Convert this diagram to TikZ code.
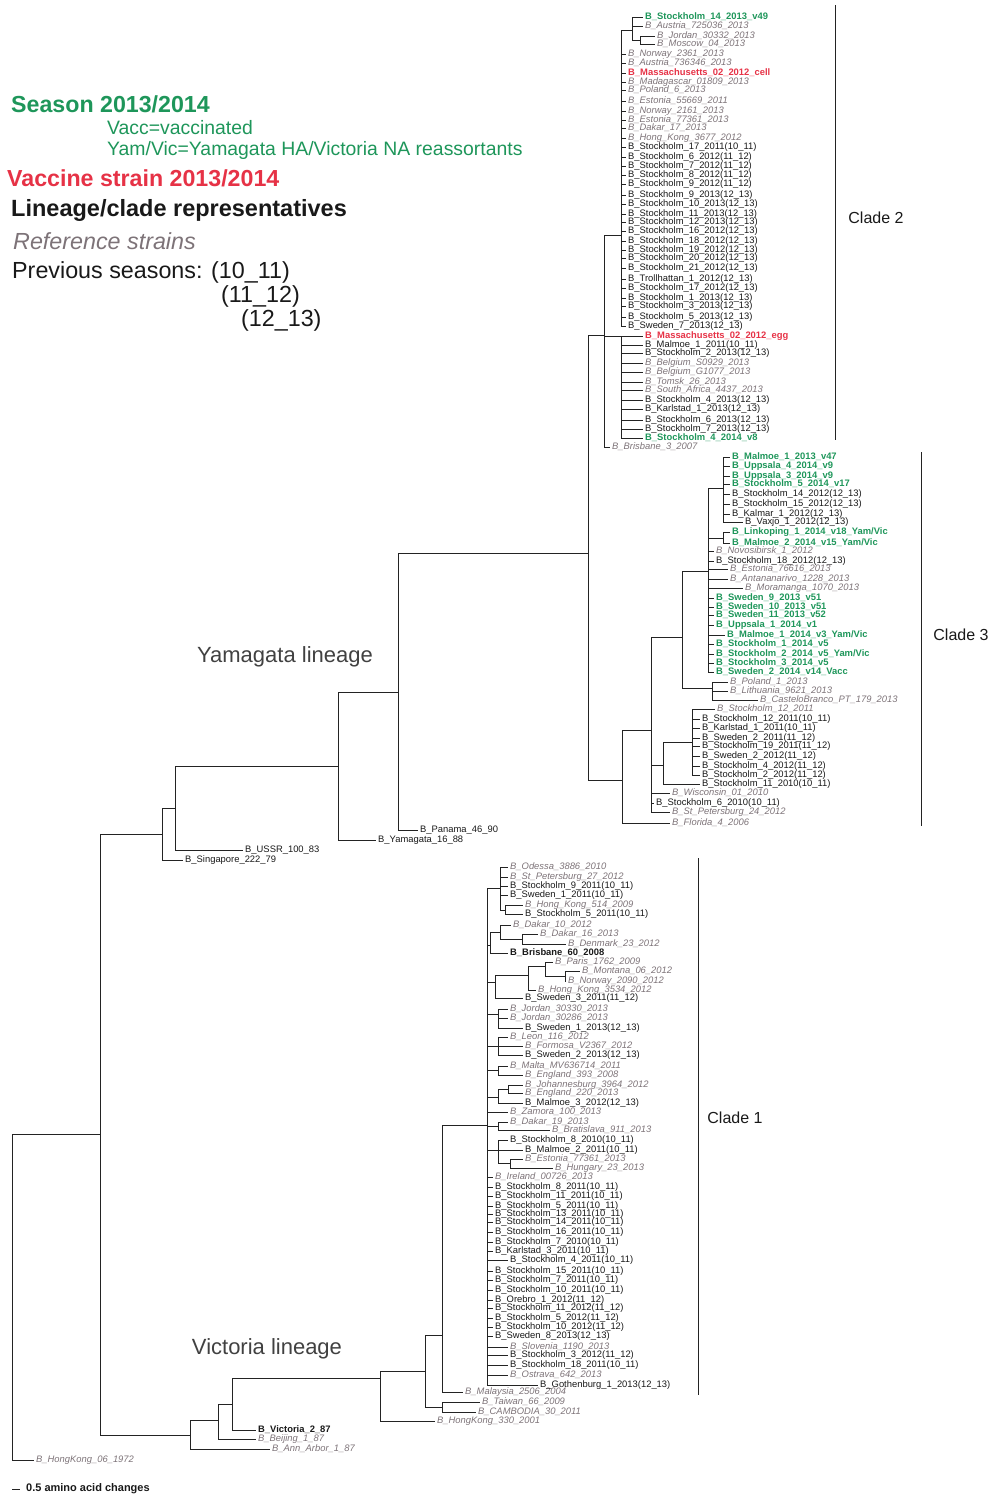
\documentclass[tikz,border=0pt]{standalone}
\usepackage{fontspec}
\setmainfont{Liberation Sans}
\definecolor{gcol}{RGB}{30,150,90}
\definecolor{rcol}{RGB}{230,50,70}
\definecolor{fcol}{RGB}{125,115,120}
\definecolor{kcol}{RGB}{25,25,25}
\definecolor{lcol}{RGB}{35,35,35}
\definecolor{ncol}{RGB}{65,65,65}
\newcommand\leafnode[6]{\node[lf,#2] (#1) at ({#3-2},#4) {#5}; \draw[br] (#6) |- (#1.west);}
\catcode`\_=12
\begin{document}
\begin{tikzpicture}[x=1pt,y=-1pt,
  br/.style={draw=lcol,line width=0.85pt},
  lf/.style={anchor=west,inner xsep=2pt,inner ysep=0.5pt,font=\fontsize{9.4}{10}\selectfont},
  gn/.style={text=gcol,font=\fontsize{9.4}{10}\selectfont\bfseries},
  rd/.style={text=rcol,font=\fontsize{9.4}{10}\selectfont\bfseries},
  rf/.style={text=fcol,font=\fontsize{9.4}{10}\selectfont\itshape},
  bk/.style={text=kcol},
  rp/.style={text=kcol,font=\fontsize{9.4}{10}\selectfont\bfseries},
  leg/.style={anchor=west,inner sep=0pt},
  clade/.style={font=\fontsize{16}{18}\selectfont,text=kcol},
  lin/.style={font=\fontsize{22}{24}\selectfont,text=ncol}]
\useasboundingbox (0,0) rectangle (990,1497);
% legend
\node[leg,text=gcol,font=\fontsize{23.2}{25}\selectfont\bfseries] (t1) at (11,104) {Season 2013/2014};
\node[leg,text=gcol,font=\fontsize{19.4}{21}\selectfont] (t2) at (107,128) {Vacc=vaccinated};
\node[leg,text=gcol,font=\fontsize{19.4}{21}\selectfont] (t3) at (107,150) {Yam/Vic=Yamagata HA/Victoria NA reassortants};
\node[leg,text=rcol,font=\fontsize{23.2}{25}\selectfont\bfseries] (t4) at (7,178) {Vaccine strain 2013/2014};
\node[leg,text=kcol,font=\fontsize{23.5}{25}\selectfont\bfseries] (t5) at (11,210) {Lineage/clade representatives};
\node[leg,text=fcol,font=\fontsize{23.3}{25}\selectfont\itshape] (t6) at (13,241) {Reference strains};
\node[leg,text=kcol,font=\fontsize{23.3}{25}\selectfont] (t7) at (12,272) {Previous seasons: (10_11)};
\node[leg,text=kcol,font=\fontsize{23.3}{25}\selectfont] (t8) at (221,296) {(11_12)};
\node[leg,text=kcol,font=\fontsize{23.3}{25}\selectfont] (t9) at (241,320) {(12_13)};
% lineage labels
\node[lin] (ylab) at (285,657) {Yamagata lineage};
\node[lin] (vlab) at (267,1349) {Victoria lineage};
% internal nodes: backbone
\coordinate (R) at (12,1297);
\coordinate (N100) at (100,1134);
\coordinate (N162) at (162,834);
\coordinate (N175) at (175,808);
\coordinate (N338) at (338,766);
\coordinate (N398) at (398,692);
\coordinate (Y1) at (588,553);
\coordinate (C2) at (604,335);
\coordinate (P1) at (621,235);
\coordinate (P2) at (621,336);
\coordinate (S1) at (632,30);
\coordinate (JM) at (640,40);
\coordinate (C3) at (622,780);
\coordinate (B3) at (651,730);
\coordinate (CN) at (682,637);
\coordinate (F3) at (708,571);
\coordinate (H3) at (723,488);
\coordinate (LM) at (723,538);
\coordinate (G3) at (712,688);
\coordinate (D3) at (663,765);
\coordinate (E3) at (692,742);
\coordinate (N190) at (190,1435);
\coordinate (N218) at (218,1420);
\coordinate (N232) at (232,1404);
\coordinate (N380) at (380,1378);
\coordinate (N425) at (425,1371);
\coordinate (N442) at (442,1335);
\coordinate (TC) at (442,1407);
\coordinate (V1) at (487,1125);
\coordinate (V1a) at (500,888);
\coordinate (V1b) at (505,910);
\coordinate (V2) at (490,945);
\coordinate (V2a) at (500,932);
\coordinate (V2b) at (522,939);
\coordinate (V3) at (495,982);
\coordinate (V3a) at (528,975);
\coordinate (V3b) at (545,966);
\coordinate (V3c) at (565,976);
\coordinate (V4) at (498,1014);
\coordinate (V5) at (498,1046);
\coordinate (V6) at (498,1070);
\coordinate (V7) at (498,1097);
\coordinate (V7a) at (508,1089);
\coordinate (V8) at (498,1126);
\coordinate (V9) at (498,1150);
\coordinate (V9a) at (510,1163);
% internal edges
\draw[br] (R) |- (N100);
\draw[br] (N100) |- (N162);
\draw[br] (N100) |- (N190);
\draw[br] (N162) |- (N175);
\draw[br] (N175) |- (N338);
\draw[br] (N338) |- (N398);
\draw[br] (N398) |- (Y1);
\draw[br] (Y1) |- (C2);
\draw[br] (Y1) |- (C3);
\draw[br] (C2) |- (P1);
\draw[br] (C2) |- (P2);
\draw[br] (P1) |- (S1);
\draw[br] (S1) |- (JM);
\draw[br] (C3) |- (B3);
\draw[br] (B3) |- (CN);
\draw[br] (B3) |- (D3);
\draw[br] (CN) |- (F3);
\draw[br] (CN) |- (G3);
\draw[br] (F3) |- (H3);
\draw[br] (F3) |- (LM);
\draw[br] (D3) |- (E3);
\draw[br] (N190) |- (N218);
\draw[br] (N218) |- (N232);
\draw[br] (N232) |- (N380);
\draw[br] (N380) |- (N425);
\draw[br] (N425) |- (N442);
\draw[br] (N425) |- (TC);
\draw[br] (N442) |- (V1);
\draw[br] (V1) |- (V1a);
\draw[br] (V1a) |- (V1b);
\draw[br] (V1) |- (V2);
\draw[br] (V2) |- (V2a);
\draw[br] (V2a) |- (V2b);
\draw[br] (V1) |- (V3);
\draw[br] (V3) |- (V3a);
\draw[br] (V3a) |- (V3b);
\draw[br] (V3b) |- (V3c);
\draw[br] (V1) |- (V4);
\draw[br] (V1) |- (V5);
\draw[br] (V1) |- (V6);
\draw[br] (V1) |- (V7);
\draw[br] (V7) |- (V7a);
\draw[br] (V1) |- (V8);
\draw[br] (V1) |- (V9);
\draw[br] (V9) |- (V9a);
% backbone leaves
\leafnode{h72}{rf}{36}{1460}{B_HongKong_06_1972}{R}
\leafnode{sg}{bk}{185}{860}{B_Singapore_222_79}{N162}
\leafnode{us}{bk}{245}{850}{B_USSR_100_83}{N175}
\leafnode{ym}{bk}{378}{840}{B_Yamagata_16_88}{N338}
\leafnode{pn}{bk}{420}{830}{B_Panama_46_90}{N398}
\leafnode{aa}{rf}{272}{1449}{B_Ann_Arbor_1_87}{N190}
\leafnode{bj}{rf}{258}{1439}{B_Beijing_1_87}{N218}
\leafnode{vc}{rp}{258}{1430}{B_Victoria_2_87}{N232}
\leafnode{hk330}{rf}{437}{1421}{B_HongKong_330_2001}{N380}
\leafnode{my}{rf}{465}{1392}{B_Malaysia_2506_2004}{N442}
\leafnode{tw}{rf}{482}{1402}{B_Taiwan_66_2009}{TC}
\leafnode{cb}{rf}{478}{1412}{B_CAMBODIA_30_2011}{TC}
% clade 2
\leafnode{a1}{gn}{645}{17}{B_Stockholm_14_2013_v49}{S1}
\leafnode{a2}{rf}{645}{26}{B_Austria_725036_2013}{S1}
\leafnode{a3}{rf}{657}{36}{B_Jordan_30332_2013}{JM}
\leafnode{a4}{rf}{657}{44}{B_Moscow_04_2013}{JM}
\leafnode{a5}{rf}{628}{54}{B_Norway_2361_2013}{P1}
\leafnode{a6}{rf}{628}{63}{B_Austria_736346_2013}{P1}
\leafnode{a7}{rd}{628}{73}{B_Massachusetts_02_2012_cell}{P1}
\leafnode{a8}{rf}{628}{82}{B_Madagascar_01809_2013}{P1}
\leafnode{a9}{rf}{628}{90}{B_Poland_6_2013}{P1}
\leafnode{a10}{rf}{628}{101}{B_Estonia_55669_2011}{P1}
\leafnode{a11}{rf}{628}{111}{B_Norway_2161_2013}{P1}
\leafnode{a12}{rf}{628}{120}{B_Estonia_77361_2013}{P1}
\leafnode{a13}{rf}{628}{128}{B_Dakar_17_2013}{P1}
\leafnode{a14}{rf}{628}{138}{B_Hong_Kong_3677_2012}{P1}
\leafnode{a15}{bk}{628}{147}{B_Stockholm_17_2011(10_11)}{P1}
\leafnode{a16}{bk}{628}{157}{B_Stockholm_6_2012(11_12)}{P1}
\leafnode{a17}{bk}{628}{166}{B_Stockholm_7_2012(11_12)}{P1}
\leafnode{a18}{bk}{628}{175}{B_Stockholm_8_2012(11_12)}{P1}
\leafnode{a19}{bk}{628}{184}{B_Stockholm_9_2012(11_12)}{P1}
\leafnode{a20}{bk}{628}{195}{B_Stockholm_9_2013(12_13)}{P1}
\leafnode{a21}{bk}{628}{204}{B_Stockholm_10_2013(12_13)}{P1}
\leafnode{a22}{bk}{628}{214}{B_Stockholm_11_2013(12_13)}{P1}
\leafnode{a23}{bk}{628}{222}{B_Stockholm_12_2013(12_13)}{P1}
\leafnode{a24}{bk}{628}{231}{B_Stockholm_16_2012(12_13)}{P1}
\leafnode{a25}{bk}{628}{241}{B_Stockholm_18_2012(12_13)}{P1}
\leafnode{a26}{bk}{628}{250}{B_Stockholm_19_2012(12_13)}{P1}
\leafnode{a27}{bk}{628}{258}{B_Stockholm_20_2012(12_13)}{P1}
\leafnode{a28}{bk}{628}{268}{B_Stockholm_21_2012(12_13)}{P1}
\leafnode{a29}{bk}{628}{279}{B_Trollhattan_1_2012(12_13)}{P1}
\leafnode{a30}{bk}{628}{288}{B_Stockholm_17_2012(12_13)}{P1}
\leafnode{a31}{bk}{628}{298}{B_Stockholm_1_2013(12_13)}{P1}
\leafnode{a32}{bk}{628}{306}{B_Stockholm_3_2013(12_13)}{P1}
\leafnode{a33}{bk}{628}{317}{B_Stockholm_5_2013(12_13)}{P1}
\leafnode{a34}{bk}{628}{326}{B_Sweden_7_2013(12_13)}{P1}
\leafnode{a35}{rd}{645}{336}{B_Massachusetts_02_2012_egg}{P2}
\leafnode{a36}{bk}{645}{345}{B_Malmoe_1_2011(10_11)}{P2}
\leafnode{a37}{bk}{645}{353}{B_Stockholm_2_2013(12_13)}{P2}
\leafnode{a38}{rf}{645}{363}{B_Belgium_S0929_2013}{P2}
\leafnode{a39}{rf}{645}{372}{B_Belgium_G1077_2013}{P2}
\leafnode{a40}{rf}{645}{382}{B_Tomsk_26_2013}{P2}
\leafnode{a41}{rf}{645}{390}{B_South_Africa_4437_2013}{P2}
\leafnode{a42}{bk}{645}{400}{B_Stockholm_4_2013(12_13)}{P2}
\leafnode{a43}{bk}{645}{409}{B_Karlstad_1_2013(12_13)}{P2}
\leafnode{a44}{bk}{645}{420}{B_Stockholm_6_2013(12_13)}{P2}
\leafnode{a45}{bk}{645}{429}{B_Stockholm_7_2013(12_13)}{P2}
\leafnode{a46}{gn}{645}{438}{B_Stockholm_4_2014_v8}{P2}
\leafnode{a47}{rf}{612}{447}{B_Brisbane_3_2007}{C2}
% clade 3
\leafnode{b1}{gn}{732}{457}{B_Malmoe_1_2013_v47}{H3}
\leafnode{b2}{gn}{732}{466}{B_Uppsala_4_2014_v9}{H3}
\leafnode{b3}{gn}{732}{476}{B_Uppsala_3_2014_v9}{H3}
\leafnode{b4}{gn}{732}{484}{B_Stockholm_5_2014_v17}{H3}
\leafnode{b5}{bk}{732}{494}{B_Stockholm_14_2012(12_13)}{H3}
\leafnode{b6}{bk}{732}{504}{B_Stockholm_15_2012(12_13)}{H3}
\leafnode{b7}{bk}{732}{514}{B_Kalmar_1_2012(12_13)}{H3}
\leafnode{b8}{bk}{745}{522}{B_Vaxjo_1_2012(12_13)}{H3}
\leafnode{b9}{gn}{732}{532}{B_Linkoping_1_2014_v18_Yam/Vic}{LM}
\leafnode{b10}{gn}{732}{543}{B_Malmoe_2_2014_v15_Yam/Vic}{LM}
\leafnode{b11}{rf}{716}{551}{B_Novosibirsk_1_2012}{F3}
\leafnode{b12}{bk}{716}{561}{B_Stockholm_18_2012(12_13)}{F3}
\leafnode{b13}{rf}{730}{569}{B_Estonia_76616_2013}{F3}
\leafnode{b14}{rf}{730}{579}{B_Antananarivo_1228_2013}{F3}
\leafnode{b15}{rf}{745}{588}{B_Moramanga_1070_2013}{F3}
\leafnode{b16}{gn}{716}{598}{B_Sweden_9_2013_v51}{F3}
\leafnode{b17}{gn}{716}{607}{B_Sweden_10_2013_v51}{F3}
\leafnode{b18}{gn}{716}{615}{B_Sweden_11_2013_v52}{F3}
\leafnode{b19}{gn}{716}{625}{B_Uppsala_1_2014_v1}{F3}
\leafnode{b20}{gn}{727}{635}{B_Malmoe_1_2014_v3_Yam/Vic}{F3}
\leafnode{b21}{gn}{716}{644}{B_Stockholm_1_2014_v5}{F3}
\leafnode{b22}{gn}{716}{654}{B_Stockholm_2_2014_v5_Yam/Vic}{F3}
\leafnode{b23}{gn}{716}{663}{B_Stockholm_3_2014_v5}{F3}
\leafnode{b24}{gn}{716}{672}{B_Sweden_2_2014_v14_Vacc}{F3}
\leafnode{b25}{rf}{730}{682}{B_Poland_1_2013}{G3}
\leafnode{b26}{rf}{730}{691}{B_Lithuania_9621_2013}{G3}
\leafnode{b27}{rf}{760}{700}{B_CasteloBranco_PT_179_2013}{G3}
\leafnode{b28}{rf}{717}{709}{B_Stockholm_12_2011}{E3}
\leafnode{b29}{bk}{702}{719}{B_Stockholm_12_2011(10_11)}{E3}
\leafnode{b30}{bk}{702}{728}{B_Karlstad_1_2011(10_11)}{E3}
\leafnode{b31}{bk}{702}{738}{B_Sweden_2_2011(11_12)}{E3}
\leafnode{b32}{bk}{702}{746}{B_Stockholm_19_2011(11_12)}{E3}
\leafnode{b33}{bk}{702}{756}{B_Sweden_2_2012(11_12)}{E3}
\leafnode{b34}{bk}{702}{766}{B_Stockholm_4_2012(11_12)}{E3}
\leafnode{b35}{bk}{702}{775}{B_Stockholm_2_2012(11_12)}{E3}
\leafnode{b36}{bk}{702}{784}{B_Stockholm_11_2010(10_11)}{D3}
\leafnode{b37}{rf}{672}{793}{B_Wisconsin_01_2010}{B3}
\leafnode{b38}{bk}{656}{803}{B_Stockholm_6_2010(10_11)}{B3}
\leafnode{b39}{rf}{672}{812}{B_St_Petersburg_24_2012}{B3}
\leafnode{b40}{rf}{672}{823}{B_Florida_4_2006}{C3}
% clade 1
\leafnode{c1}{rf}{510}{867}{B_Odessa_3886_2010}{V1a}
\leafnode{c2}{rf}{510}{877}{B_St_Petersburg_27_2012}{V1a}
\leafnode{c3}{bk}{510}{886}{B_Stockholm_9_2011(10_11)}{V1a}
\leafnode{c4}{bk}{510}{895}{B_Sweden_1_2011(10_11)}{V1a}
\leafnode{c5}{rf}{525}{905}{B_Hong_Kong_514_2009}{V1b}
\leafnode{c6}{bk}{525}{914}{B_Stockholm_5_2011(10_11)}{V1b}
\leafnode{c7}{rf}{513}{925}{B_Dakar_10_2012}{V2a}
\leafnode{c8}{rf}{540}{934}{B_Dakar_16_2013}{V2b}
\leafnode{c9}{rf}{568}{944}{B_Denmark_23_2012}{V2b}
\leafnode{c10}{rp}{510}{953}{B_Brisbane_60_2008}{V2}
\leafnode{c11}{rf}{555}{962}{B_Paris_1762_2009}{V3b}
\leafnode{c12}{rf}{582}{971}{B_Montana_06_2012}{V3c}
\leafnode{c13}{rf}{568}{981}{B_Norway_2090_2012}{V3c}
\leafnode{c14}{rf}{538}{990}{B_Hong_Kong_3534_2012}{V3a}
\leafnode{c15}{bk}{525}{998}{B_Sweden_3_2011(11_12)}{V3}
\leafnode{c16}{rf}{510}{1009}{B_Jordan_30330_2013}{V4}
\leafnode{c17}{rf}{510}{1018}{B_Jordan_30286_2013}{V4}
\leafnode{c18}{bk}{525}{1028}{B_Sweden_1_2013(12_13)}{V4}
\leafnode{c19}{rf}{510}{1037}{B_Leon_116_2012}{V5}
\leafnode{c20}{rf}{525}{1046}{B_Formosa_V2367_2012}{V5}
\leafnode{c21}{bk}{525}{1055}{B_Sweden_2_2013(12_13)}{V5}
\leafnode{c22}{rf}{510}{1066}{B_Malta_MV636714_2011}{V6}
\leafnode{c23}{rf}{525}{1075}{B_England_393_2008}{V6}
\leafnode{c24}{rf}{525}{1085}{B_Johannesburg_3964_2012}{V7a}
\leafnode{c25}{rf}{525}{1093}{B_England_220_2013}{V7a}
\leafnode{c26}{bk}{525}{1103}{B_Malmoe_3_2012(12_13)}{V7}
\leafnode{c27}{rf}{510}{1112}{B_Zamora_100_2013}{V1}
\leafnode{c28}{rf}{510}{1122}{B_Dakar_19_2013}{V8}
\leafnode{c29}{rf}{552}{1130}{B_Bratislava_911_2013}{V8}
\leafnode{c30}{bk}{510}{1140}{B_Stockholm_8_2010(10_11)}{V9}
\leafnode{c31}{bk}{525}{1150}{B_Malmoe_2_2011(10_11)}{V9}
\leafnode{c32}{rf}{525}{1159}{B_Estonia_77361_2013}{V9a}
\leafnode{c33}{rf}{555}{1168}{B_Hungary_23_2013}{V9a}
\leafnode{c34}{rf}{495}{1177}{B_Ireland_00726_2013}{V1}
\leafnode{c35}{bk}{495}{1187}{B_Stockholm_8_2011(10_11)}{V1}
\leafnode{c36}{bk}{495}{1196}{B_Stockholm_11_2011(10_11)}{V1}
\leafnode{c37}{bk}{495}{1206}{B_Stockholm_5_2011(10_11)}{V1}
\leafnode{c38}{bk}{495}{1214}{B_Stockholm_13_2011(10_11)}{V1}
\leafnode{c39}{bk}{495}{1222}{B_Stockholm_14_2011(10_11)}{V1}
\leafnode{c40}{bk}{495}{1232}{B_Stockholm_16_2011(10_11)}{V1}
\leafnode{c41}{bk}{495}{1242}{B_Stockholm_7_2010(10_11)}{V1}
\leafnode{c42}{bk}{495}{1251}{B_Karlstad_3_2011(10_11)}{V1}
\leafnode{c43}{bk}{510}{1260}{B_Stockholm_4_2011(10_11)}{V1}
\leafnode{c44}{bk}{495}{1271}{B_Stockholm_15_2011(10_11)}{V1}
\leafnode{c45}{bk}{495}{1280}{B_Stockholm_7_2011(10_11)}{V1}
\leafnode{c46}{bk}{495}{1290}{B_Stockholm_10_2011(10_11)}{V1}
\leafnode{c47}{bk}{495}{1300}{B_Orebro_1_2012(11_12)}{V1}
\leafnode{c48}{bk}{495}{1308}{B_Stockholm_11_2012(11_12)}{V1}
\leafnode{c49}{bk}{495}{1318}{B_Stockholm_5_2012(11_12)}{V1}
\leafnode{c50}{bk}{495}{1327}{B_Stockholm_10_2012(11_12)}{V1}
\leafnode{c51}{bk}{495}{1336}{B_Sweden_8_2013(12_13)}{V1}
\leafnode{c52}{rf}{510}{1347}{B_Slovenia_1190_2013}{V1}
\leafnode{c53}{bk}{510}{1355}{B_Stockholm_3_2012(11_12)}{V1}
\leafnode{c54}{bk}{510}{1365}{B_Stockholm_18_2011(10_11)}{V1}
\leafnode{c55}{rf}{510}{1375}{B_Ostrava_642_2013}{V1}
\leafnode{c56}{bk}{540}{1385}{B_Gothenburg_1_2013(12_13)}{V1}
% clade brackets
\coordinate (k2a) at (835,5); \coordinate (k2b) at (835,440);
\coordinate (k3a) at (921,452); \coordinate (k3b) at (921,826);
\coordinate (k1a) at (698,858); \coordinate (k1b) at (698,1395);
\draw[br] (k2a) -- (k2b);
\draw[br] (k3a) -- (k3b);
\draw[br] (k1a) -- (k1b);
\node[clade] (cl2) at (876,218) {Clade 2};
\node[clade] (cl3) at (961,635) {Clade 3};
\node[clade] (cl1) at (735,1118) {Clade 1};
% scale bar
\coordinate (sb1) at (12,1489); \coordinate (sb2) at (20,1489);
\draw[br] (sb1) -- (sb2);
\node[anchor=west,inner sep=0pt,text=kcol,font=\fontsize{11}{12}\selectfont\bfseries] (sbt) at (26,1489) {0.5 amino acid changes};
\end{tikzpicture}
\end{document}
